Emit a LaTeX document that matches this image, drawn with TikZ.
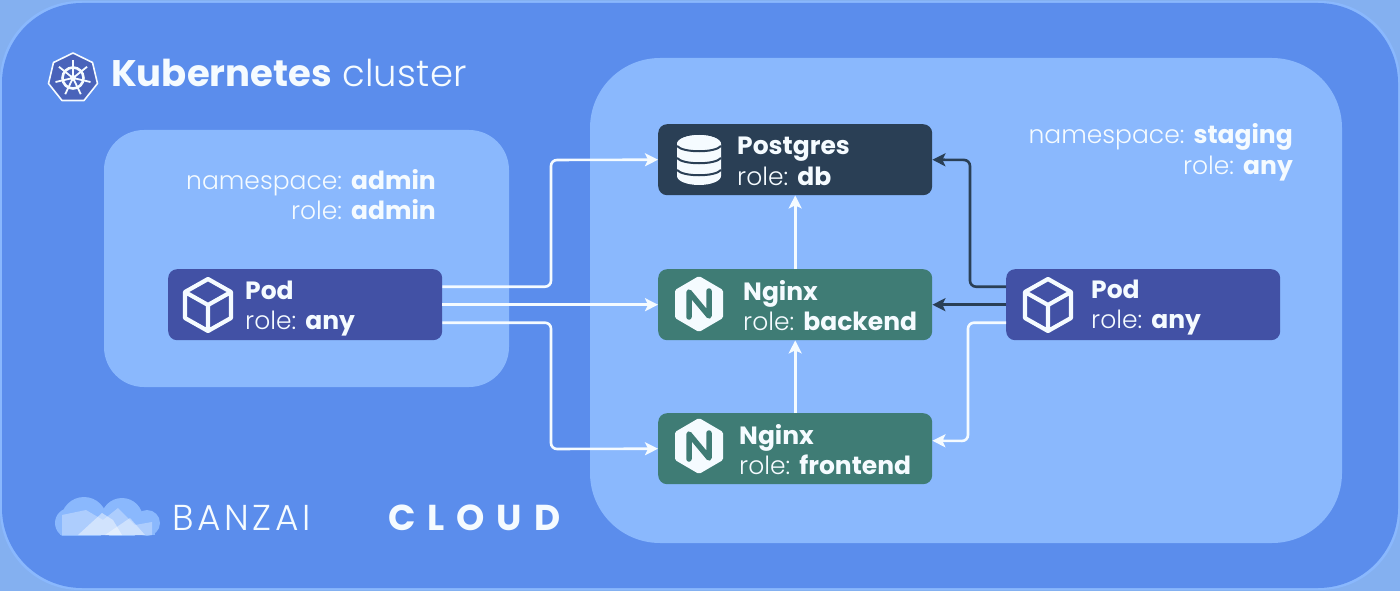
\documentclass[tikz,border=0pt]{standalone}
\usepackage{fontspec}
\setmainfont{Poppins}[UprightFont={* Light},BoldFont={* Bold}]
\usetikzlibrary{arrows.meta}
\definecolor{corner}{HTML}{84B0F0}
\definecolor{mainblue}{HTML}{5B8DEC}
\definecolor{lightblue}{HTML}{8AB8FD}
\definecolor{dbdark}{HTML}{2A3F55}
\definecolor{nginxgreen}{HTML}{3F7C75}
\definecolor{podblue}{HTML}{4251A5}
\definecolor{snow}{HTML}{F5FBFF}
\tikzset{
  x=1pt,y=-1pt,
  box/.style={rounded corners=9pt,minimum width=274pt,minimum height=71pt,inner sep=0pt,anchor=north west},
  dbbox/.style={box,fill=dbdark},
  ngbox/.style={box,fill=nginxgreen},
  podbox/.style={box,fill=podblue},
  lbl/.style={inner sep=0pt,anchor=base west,text=snow,font=\fontsize{25}{25}\selectfont},
  lblr/.style={inner sep=0pt,anchor=base east,text=snow,font=\fontsize{25}{25}\selectfont},
  wire/.style={line width=2.6pt,rounded corners=6pt,-{Stealth[inset=3pt,length=13pt,width=13pt]}},
  wh/.style={wire,draw=snow},
  dk/.style={wire,draw=dbdark},
  cubeicon/.pic={
    \draw[snow,line width=4.2pt,line join=round]
      (0,-26)--(23,-13)--(23,13)--(0,26)--(-23,13)--(-23,-13)--cycle
      (-23,-13)--(0,0)--(23,-13) (0,0)--(0,26);
  },
  ngicon/.pic={
    \fill[snow,rounded corners=1.5pt] (0,-28)--(24,-14)--(24,14)--(0,28)--(-24,14)--(-24,-14)--cycle;
    \draw[nginxgreen,line width=5.5pt,line cap=round,line join=round]
      (-10,13)--(-10,-12)--(10,12)--(10,-13);
  },
  dbicon/.pic={
    \fill[snow] (-22,-16) arc[x radius=22,y radius=9,start angle=180,end angle=360]
      -- (22,16) arc[x radius=22,y radius=9,start angle=0,end angle=180] -- cycle;
    \fill[snow] (0,-16) ellipse[x radius=22,y radius=9];
    \foreach \yy in {-9,3,15}{
      \draw[dbdark,line width=2pt] (-22,\yy-5) .. controls (-16,\yy+2) and (16,\yy+2) .. (22,\yy-5);
    }
  },
}
\begin{document}
\begin{tikzpicture}
\useasboundingbox (0,0) rectangle (1400,591);
\fill[corner] (0,0) rectangle (1400,591);
\fill[lightblue,rounded corners=80pt] (0,1) rectangle (1400,590);
\fill[mainblue,rounded corners=80pt] (2,3) rectangle (1398,588);
% zones
\fill[lightblue,rounded corners=40pt] (104,130) rectangle (509,387);
\fill[lightblue,rounded corners=70pt] (590,58) rectangle (1342,543);
% Kubernetes logo
\fill[podblue!70!mainblue,draw=snow,line width=1.6pt,line join=round]
  (73,53)--(92.5,62.5)--(97.5,83.5)--(84,100.5)--(62,100.5)--(48.5,83.5)--(53.5,62.5)--cycle;
\draw[snow,line width=2.6pt] (73,78) circle[radius=10.5];
\foreach \ang in {90,141.4,192.9,244.3,295.7,347.1,38.6}{
  \draw[snow,line width=1.8pt] (73,78) -- ++({18*cos(\ang)},{-18*sin(\ang)});
}
\fill[snow] (73,78) circle[radius=3];
\node[lbl,font=\fontsize{37}{37}\selectfont] (title) at (111,87) {\textbf{Kubernetes} {\addfontfeature{LetterSpace=1}cluster}};
% cloud
\begin{scope}
\clip (40,490) rectangle (170,535);
\fill[lightblue] (84,520) circle[radius=23];
\fill[lightblue] (122,519) circle[radius=21];
\fill[lightblue] (147,523) circle[radius=13];
\fill[lightblue] (70,523) circle[radius=15];
\fill[lightblue] (60,535) rectangle (155,526);
\fill[white,opacity=.3] (62,535)--(62,515)--(86,510)--(103,520)--(118,508)--(135,525)--(152,522)--(152,535)--cycle;
\fill[white,opacity=.45] (78,535)--(102,513)--(113,520)--(122,535)--cycle;
\fill[white,opacity=.4] (105,535)--(130,518)--(145,535)--cycle;
\end{scope}
\node[lbl,font=\fontsize{36}{36}\selectfont] (banzai) at (172,530) {\addfontfeature{LetterSpace=10}BANZAI};
\node[lbl,font=\fontsize{36}{36}\selectfont] (cloud) at (388,530) {\bfseries\addfontfeature{LetterSpace=33}CLOUD};
% boxes
\node[podbox] (podl) at (168,269) {};
\node[podbox] (podr) at (1006,269) {};
\node[dbbox] (pg) at (658,124) {};
\node[ngbox] (be) at (658,269) {};
\node[ngbox] (fe) at (658,413) {};
% connectors
\draw[wh] ([yshift=18pt]podl.east) -| (551,160) -- (pg.west);
\draw[wh] (podl.east) -- (be.west);
\draw[wh] ([yshift=-18pt]podl.east) -| (551,449) -- (fe.west);
\draw[wh] (be.north) -- (pg.south);
\draw[wh] (fe.north) -- (be.south);
\draw[dk] ([yshift=18pt]podr.west) -| (970,160) -- (pg.east);
\draw[dk] (podr.west) -- (be.east);
\draw[wh] ([yshift=-18pt]podr.west) -| (968,441) -- ([yshift=8pt]fe.east);
% icons
\pic at (208,305) {cubeicon};
\pic at (1048,305) {cubeicon};
\pic at (699,160) {dbicon};
\pic at (699,304) {ngicon};
\pic at (699,446) {ngicon};
% labels
\node[lblr] (nsa) at (436,189) {namespace: \textbf{admin}};
\node[lblr] (ra) at (436,219) {role: \textbf{admin}};
\node[lblr] (nss) at (1293,144) {namespace: \textbf{staging}};
\node[lblr] (rs) at (1293,174) {role: \textbf{any}};
\node[lbl] (t1) at (245,299) {\textbf{Pod}};
\node[lbl] (t2) at (245,329) {role: \textbf{any}};
\node[lbl] (t3) at (1091,298) {\textbf{Pod}};
\node[lbl] (t4) at (1091,328) {role: \textbf{any}};
\node[lbl] (t5) at (737,154) {\textbf{Postgres}};
\node[lbl] (t6) at (737,185) {role: \textbf{db}};
\node[lbl] (t7) at (743,300) {\textbf{Nginx}};
\node[lbl] (t8) at (743,330) {role: \textbf{backend}};
\node[lbl] (t9) at (739,444) {\textbf{Nginx}};
\node[lbl] (t10) at (739,474) {role: \textbf{frontend}};
\end{tikzpicture}
\end{document}
